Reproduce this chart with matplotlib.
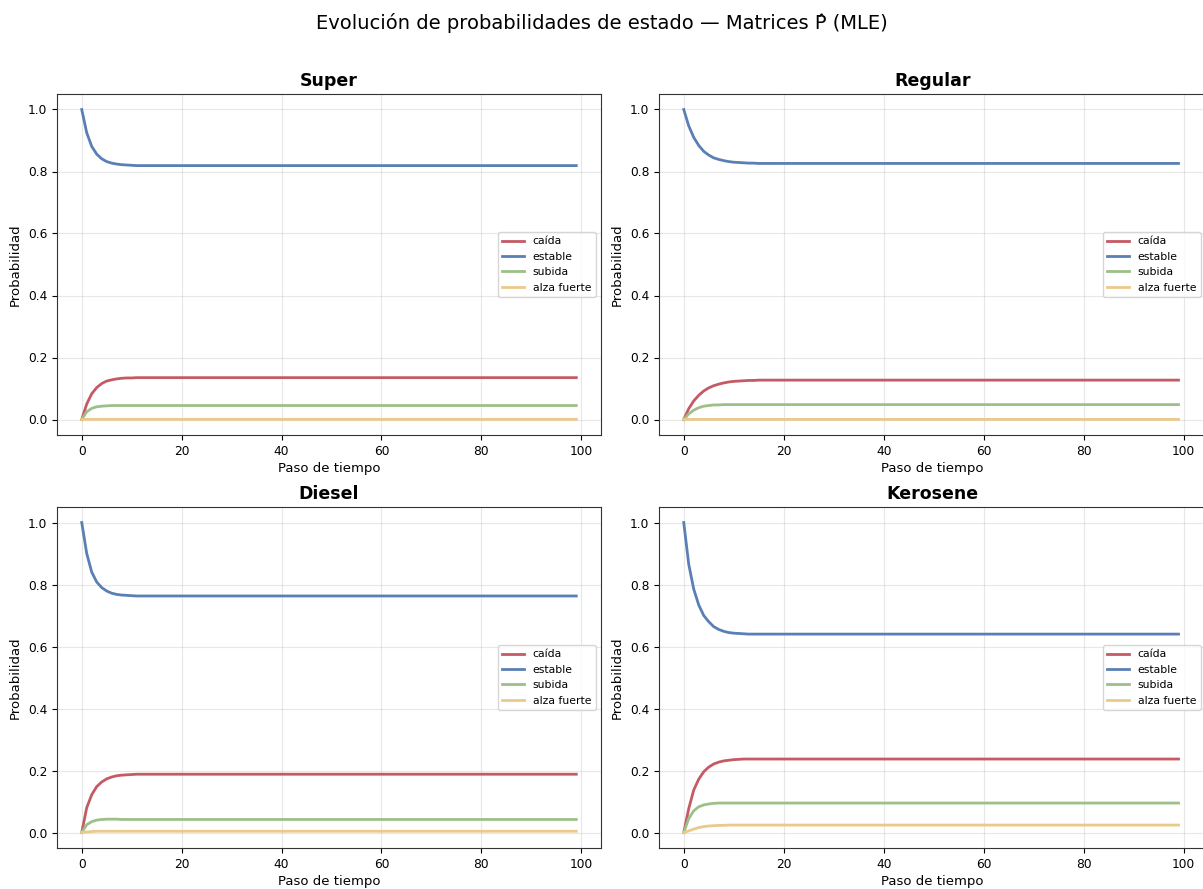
import matplotlib
matplotlib.use("Agg")
import matplotlib.pyplot as plt

N = 100
steps = list(range(N))

states = ["caída", "estable", "subida", "alza fuerte"]
colors = ["#c45a64", "#5a7fb5", "#9dbf88", "#eac98a"]
panels = ["Super", "Regular", "Diesel", "Kerosene"]

def pad(vals, n=N):
    return vals + [vals[-1]] * (n - len(vals))

# Super
super_caida = pad([0.0, 0.050, 0.083, 0.103, 0.116, 0.124, 0.128, 0.131, 0.133, 0.134, 0.134, 0.135])
super_estable = pad([1.0, 0.925, 0.881, 0.856, 0.841, 0.832, 0.827, 0.824, 0.822, 0.821, 0.820, 0.819])
super_subida = pad([0.0, 0.025, 0.036, 0.041, 0.043, 0.044, 0.045])
super_alza = pad([0.0, 0.0005])

# Regular
regular_caida = pad([0.0, 0.035, 0.060, 0.078, 0.092, 0.102, 0.109, 0.114, 0.118, 0.121,
                     0.123, 0.124, 0.125, 0.126, 0.126, 0.127])
regular_estable = pad([1.0, 0.947, 0.910, 0.884, 0.865, 0.853, 0.844, 0.839, 0.835, 0.832,
                       0.830, 0.829, 0.828, 0.827, 0.827, 0.826])
regular_subida = pad([0.0, 0.018, 0.030, 0.038, 0.043, 0.045, 0.047, 0.047, 0.048])
regular_alza = pad([0.0, 0.0003])

# Diesel
diesel_caida = pad([0.0, 0.080, 0.122, 0.148, 0.163, 0.173, 0.179, 0.183, 0.185, 0.186,
                    0.187, 0.188])
diesel_estable = pad([1.0, 0.900, 0.840, 0.808, 0.790, 0.779, 0.772, 0.768, 0.766, 0.765,
                      0.764, 0.763])
diesel_subida = pad([0.0, 0.025, 0.035, 0.040, 0.042, 0.043, 0.043, 0.043, 0.042])
diesel_alza = pad([0.0, 0.002, 0.003, 0.004])

# Kerosene
kero_caida = pad([0.0, 0.077, 0.137, 0.172, 0.196, 0.211, 0.221, 0.227, 0.231, 0.233,
                  0.235, 0.236, 0.237])
kero_estable = pad([1.0, 0.865, 0.785, 0.734, 0.700, 0.680, 0.664, 0.655, 0.649, 0.645,
                    0.643, 0.642, 0.641, 0.640])
kero_subida = pad([0.0, 0.045, 0.070, 0.083, 0.089, 0.092, 0.094, 0.095])
kero_alza = pad([0.0, 0.005, 0.011, 0.016, 0.019, 0.021, 0.022, 0.023, 0.023, 0.024])

series = {
    "Super": [super_caida, super_estable, super_subida, super_alza],
    "Regular": [regular_caida, regular_estable, regular_subida, regular_alza],
    "Diesel": [diesel_caida, diesel_estable, diesel_subida, diesel_alza],
    "Kerosene": [kero_caida, kero_estable, kero_subida, kero_alza],
}

W, H = 1203, 889
fig = plt.figure(figsize=(W / 100, H / 100), dpi=100)

boxes = {
    "Super": (57, 94, 544, 341),
    "Regular": (659, 94, 547, 341),
    "Diesel": (57, 507, 544, 341),
    "Kerosene": (659, 507, 547, 341),
}

for name in panels:
    x0, y0, w, h = boxes[name]
    ax = fig.add_axes([x0 / W, 1 - (y0 + h) / H, w / W, h / H])
    for vals, lab, c in zip(series[name], states, colors):
        ax.plot(steps, vals, color=c, lw=2, label=lab)
    ax.set_xlim(-4.95, 103.95 if w == 544 else 104.5)
    ax.set_ylim(-0.05, 1.05)
    ax.set_title(name, fontsize=12.5, fontweight="bold", pad=6)
    ax.set_xlabel("Paso de tiempo", fontsize=9.5, labelpad=3)
    ax.set_ylabel("Probabilidad", fontsize=9.5)
    ax.grid(True, alpha=0.3)
    ax.tick_params(labelsize=8.8)
    for s in ax.spines.values():
        s.set_color("#333333")
    ax.legend(loc="center right", fontsize=7.8)

fig.suptitle("Evolución de probabilidades de estado — Matrices P\u0302 (MLE)", fontsize=14, y=0.985)

fig.savefig("out.png", dpi=100)
